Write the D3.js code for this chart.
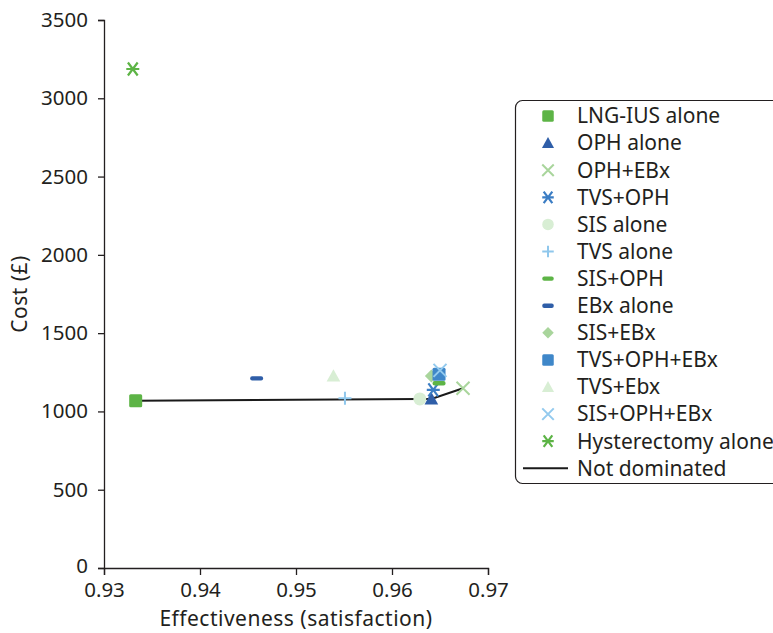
<!DOCTYPE html>
<html>
<head>
<meta charset="utf-8">
<script src="https://cdn.jsdelivr.net/npm/d3@7"></script>
<style>
  body { margin: 0; background: #fff; }
  text { font-family: "Noto Sans", "Open Sans", sans-serif; fill: #231f20; }
</style>
</head>
<body>
<div id="chart"></div>
<script>
// strategy names, in legend order
const strategies = [
  "LNG-IUS alone", "OPH alone", "OPH+EBx", "TVS+OPH", "SIS alone", "TVS alone",
  "SIS+OPH", "EBx alone", "SIS+EBx", "TVS+OPH+EBx", "TVS+Ebx", "SIS+OPH+EBx",
  "Hysterectomy alone"
];
// effectiveness (satisfaction) per strategy
const effectiveness = [
  0.9333, 0.9641, 0.9674, 0.9643, 0.9629, 0.9551,
  0.9649, 0.9459, 0.9641, 0.9649, 0.9539, 0.9650,
  0.9330
];
// cost (£) per strategy
const cost = [
  1068, 1080, 1148, 1138, 1080, 1084,
  1180, 1211, 1226, 1238, 1226, 1262,
  3187
];
// strategies on the non-dominated frontier
const frontier = ["LNG-IUS alone", "SIS alone", "OPH alone", "OPH+EBx"];

const xTicks = [0.93, 0.94, 0.95, 0.96, 0.97];
const yTicks = [0, 500, 1000, 1500, 2000, 2500, 3000, 3500];

const markers = [
  { shape: "square", color: "#5db446" },
  { shape: "triangle", color: "#2f5ea8" },
  { shape: "cross", color: "#a9d59c" },
  { shape: "asterisk", color: "#3b7dc4" },
  { shape: "circle", color: "#d8eed4" },
  { shape: "plus", color: "#8fc7ec" },
  { shape: "dash", color: "#5db446" },
  { shape: "dash", color: "#2f5ea8" },
  { shape: "diamond", color: "#a9d59c" },
  { shape: "square", color: "#3f87c9" },
  { shape: "triangle", color: "#d8eed4" },
  { shape: "cross", color: "#93caee" },
  { shape: "asterisk", color: "#5db446" }
];

const width = 773, height = 633;
const fontSize = "20.5px";

const svg = d3.select("#chart").append("svg")
  .attr("width", width)
  .attr("height", height);

const x = d3.scaleLinear().domain([0.93, 0.97]).range([104, 488]);
const y = d3.scaleLinear().domain([0, 3500]).range([568, 20]);

// draw one marker shape at 0,0 inside g, s = size
function drawMarker(g, m, s) {
  const h = s / 2;
  if (m.shape === "square") {
    g.append("rect").attr("x", -h).attr("y", -h).attr("width", s).attr("height", s)
      .attr("rx", 1.5).attr("fill", m.color);
  } else if (m.shape === "triangle") {
    g.append("path").attr("d", `M0,${-h * 1.05}L${h * 1.05},${h * 0.85}L${-h * 1.05},${h * 0.85}Z`)
      .attr("fill", m.color);
  } else if (m.shape === "circle") {
    g.append("circle").attr("r", h).attr("fill", m.color);
  } else if (m.shape === "diamond") {
    g.append("path").attr("d", `M0,${-h}L${h},0L0,${h}L${-h},0Z`).attr("fill", m.color);
  } else if (m.shape === "cross") {
    g.append("path").attr("d", `M${-h},${-h}L${h},${h}M${h},${-h}L${-h},${h}`)
      .attr("stroke", m.color).attr("stroke-width", 2);
  } else if (m.shape === "plus") {
    g.append("path").attr("d", `M${-h},0L${h},0M0,${-h}L0,${h}`)
      .attr("stroke", m.color).attr("stroke-width", 2);
  } else if (m.shape === "asterisk") {
    const a = h * 0.75;
    g.append("path").attr("d", `M${-a},${-h}L${a},${h}M${a},${-h}L${-a},${h}M${-h},0L${h},0`)
      .attr("stroke", m.color).attr("stroke-width", 2.2);
  } else if (m.shape === "dash") {
    g.append("rect").attr("x", -h).attr("y", -2.2).attr("width", s).attr("height", 4.4)
      .attr("rx", 2).attr("fill", m.color);
  }
}

// axes
const xAxis = svg.append("g")
  .attr("transform", `translate(0,${y(0)})`)
  .call(d3.axisBottom(x).tickValues(xTicks).tickSize(7).tickPadding(7)
    .tickFormat(d3.format(".2f")));
const yAxis = svg.append("g")
  .attr("transform", `translate(${x(0.93)},0)`)
  .call(d3.axisLeft(y).tickValues(yTicks).tickSize(6).tickPadding(10)
    .tickFormat(d3.format("d")));

[xAxis, yAxis].forEach((a) => {
  a.select(".domain").attr("stroke", "#231f20").attr("stroke-width", 1.3);
  a.selectAll(".tick line").attr("stroke", "#231f20").attr("stroke-width", 1.3);
  a.selectAll(".tick text").style("font-size", fontSize).attr("fill", "#231f20")
    .style("font-family", "'Noto Sans', sans-serif");
});
// the "0" label sits a touch higher so it clears "0.93"
yAxis.selectAll(".tick text").filter((d) => d === 0).attr("dy", "0.2em");

svg.append("text")
  .attr("x", 296).attr("y", 626)
  .attr("text-anchor", "middle")
  .style("font-size", "21px")
  .style("letter-spacing", "0.5px")
  .text("Effectiveness (satisfaction)");

svg.append("text")
  .attr("transform", `translate(27,${(y(0) + y(3500)) / 2}) rotate(-90)`)
  .attr("text-anchor", "middle")
  .style("font-size", "21px")
  .style("letter-spacing", "0.5px")
  .text("Cost (£)");

// frontier line
const line = d3.line()
  .x((d) => x(effectiveness[strategies.indexOf(d)]))
  .y((d) => y(cost[strategies.indexOf(d)]));
svg.append("path")
  .datum(frontier)
  .attr("d", line)
  .attr("fill", "none")
  .attr("stroke", "#1a1a1a")
  .attr("stroke-width", 2);

// points
strategies.forEach((s, i) => {
  const g = svg.append("g")
    .attr("transform", `translate(${x(effectiveness[i])},${y(cost[i])})`);
  drawMarker(g, markers[i], 13);
});

// legend
const legend = svg.append("g");
legend.append("rect")
  .attr("x", 515.5).attr("y", 100.5)
  .attr("width", 300).attr("height", 383)
  .attr("rx", 7)
  .attr("fill", "#fff")
  .attr("stroke", "#231f20")
  .attr("stroke-width", 1.2);

const rowY = (i) => 116 + i * 27.1;
strategies.forEach((s, i) => {
  const g = legend.append("g").attr("transform", `translate(548,${rowY(i)})`);
  drawMarker(g, markers[i], 11.5);
  legend.append("text")
    .attr("x", 577).attr("y", rowY(i))
    .attr("dy", "0.35em")
    .style("font-size", "21px")
    .text(s);
});
legend.append("line")
  .attr("x1", 523).attr("x2", 568)
  .attr("y1", rowY(13)).attr("y2", rowY(13))
  .attr("stroke", "#1a1a1a").attr("stroke-width", 2);
legend.append("text")
  .attr("x", 577).attr("y", rowY(13))
  .attr("dy", "0.35em")
  .style("font-size", "21px")
  .text("Not dominated");
</script>
</body>
</html>
